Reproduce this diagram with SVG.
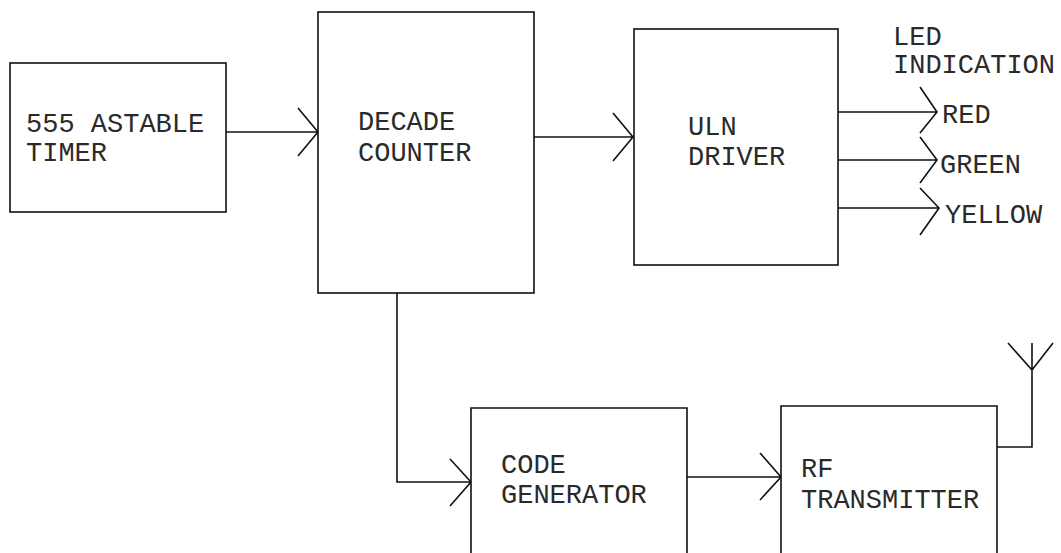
<svg xmlns="http://www.w3.org/2000/svg" width="1061" height="553" viewBox="0 0 1061 553">
  <style>
    .box { fill: #fff; stroke: #111; stroke-width: 1.6; }
    .wire { fill: none; stroke: #111; stroke-width: 1.6; }
    .lbl { font-family: "Liberation Mono", "DejaVu Sans Mono", monospace; font-size: 27px; fill: #2a2a2a; }
  </style>
  <rect width="1061" height="553" fill="#fff"/>

  <g id="connectors">
    <!-- timer -> counter -->
    <path class="wire" d="M226,132 H318 M298,108 L318,132 L298,156"/>
    <!-- counter -> ULN driver -->
    <path class="wire" d="M534,137 H633 M613,113 L633,137 L613,161"/>
    <!-- ULN outputs -->
    <path class="wire" d="M838,112 H937 M920,87 L937,112 L920,133"/>
    <path class="wire" d="M838,160 H937 M920,137 L937,160 L920,183"/>
    <path class="wire" d="M838,208 H939 M920,188 L939,208 L920,235"/>
    <!-- counter -> code generator -->
    <path class="wire" d="M397,293 V482 H471 M450,459 L471,482 L450,506"/>
    <!-- code generator -> RF transmitter -->
    <path class="wire" d="M687,477 H781 M760,453 L781,477 L760,500"/>
    <!-- antenna -->
    <path class="wire" d="M997,447 H1032 V343 M1008,343 L1032,370 L1053,343"/>
  </g>

  <g id="timer">
    <rect class="box" x="10" y="63" width="216" height="149"/>
    <text class="lbl" x="26" y="132">555 ASTABLE</text>
    <text class="lbl" x="26" y="161">TIMER</text>
  </g>

  <g id="counter">
    <rect class="box" x="318" y="12" width="216" height="281"/>
    <text class="lbl" x="358" y="130">DECADE</text>
    <text class="lbl" x="358" y="161">COUNTER</text>
  </g>

  <g id="uln">
    <rect class="box" x="634" y="29" width="204" height="236"/>
    <text class="lbl" x="688" y="135">ULN</text>
    <text class="lbl" x="688" y="165">DRIVER</text>
  </g>

  <g id="led">
    <text class="lbl" x="893" y="45">LED</text>
    <text class="lbl" x="893" y="73">INDICATION</text>
    <text class="lbl" x="942" y="123">RED</text>
    <text class="lbl" x="940" y="173">GREEN</text>
    <text class="lbl" x="945" y="223">YELLOW</text>
  </g>

  <g id="codegen">
    <path class="box" d="M471,560 V408 H687 V560"/>
    <text class="lbl" x="501" y="473">CODE</text>
    <text class="lbl" x="501" y="503">GENERATOR</text>
  </g>

  <g id="rf">
    <path class="box" d="M781,560 V406 H997 V560"/>
    <text class="lbl" x="801" y="477">RF</text>
    <text class="lbl" x="801" y="508">TRANSMITTER</text>
  </g>
</svg>
